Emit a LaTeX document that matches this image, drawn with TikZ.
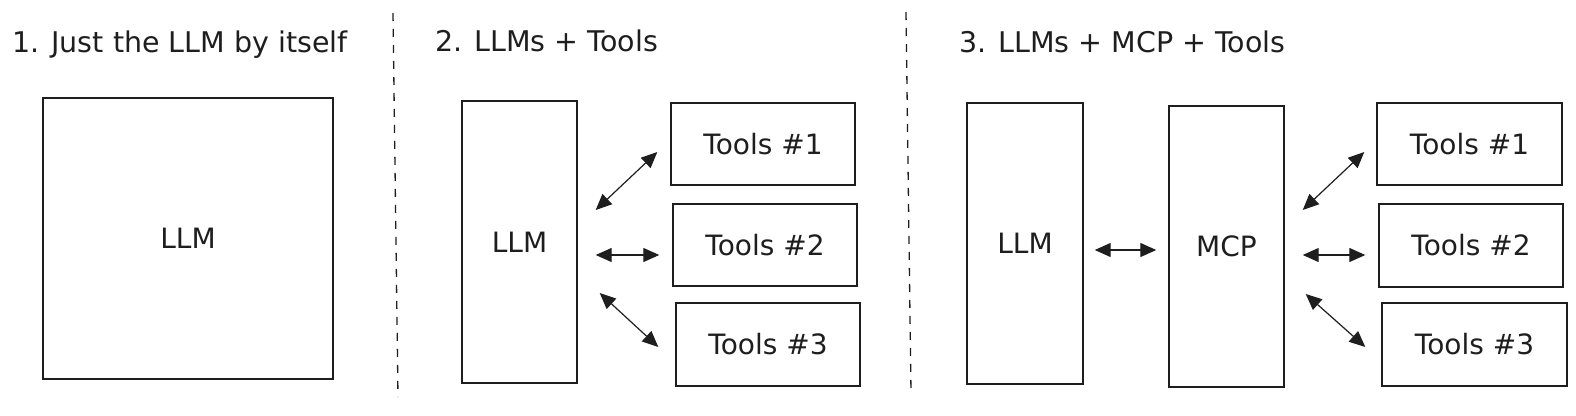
\documentclass[tikz,border=0pt]{standalone}
\usepackage{fontspec}
\setmainfont{DejaVu Sans}
\usepackage{tikz}
\usetikzlibrary{arrows.meta,calc}
\definecolor{ink}{HTML}{1E1E1E}
\tikzset{arr/.style={{Triangle[length=16pt,width=14pt]}-{Triangle[length=16pt,width=14pt]},line width=1.2pt,draw=ink},
  box/.style={draw=ink,line width=1.4pt,inner sep=0pt,font=\fontsize{28}{34}\selectfont,text=ink},
  toolbox/.style={box,minimum width=184pt,minimum height=82pt},
  tallbox/.style={box,minimum width=115pt,minimum height=281pt},
  title/.style={anchor=base west,inner sep=0pt,font=\fontsize{28.5}{34}\selectfont,text=ink},
  divider/.style={draw=ink,line width=1.3pt,dash pattern=on 8pt off 8pt}}

\begin{document}
\begin{tikzpicture}[x=1pt,y=-1pt]
\useasboundingbox (0,0) rectangle (1576,415);
% titles
\node[title] (titleA) at (12,52) {1. Just the LLM by itself};
\node[title] (titleB) at (435,51) {2. LLMs + Tools};
\node[title] (titleC) at (959,52) {3. LLMs + MCP + Tools};
% separators
\draw[divider] (393,13) -- (398,397);
\draw[divider] (906,12) -- (911,393);
% panel 1
\node[box,minimum width=290pt,minimum height=281pt] (llmA) at (188,238.5) {LLM};
% panel 2
\node[tallbox,minimum height=282pt] (llmB) at (519.5,242) {LLM};
\node[toolbox] (toolsB1) at (763,144) {Tools \#1};
\node[toolbox] (toolsB2) at (765,245) {Tools \#2};
\node[toolbox,minimum height=83pt] (toolsB3) at (768,344.5) {Tools \#3};
\draw[arr] ($(llmB.east)+(18,-32)$) -- ($(toolsB1.west)+(-13,8)$);
\draw[arr] ($(llmB.east)+(18,13)$) -- ($(toolsB2.west)+(-13,10)$);
\draw[arr] ($(llmB.east)+(22,51)$) -- ($(toolsB3.west)+(-17,2.5)$);
% panel 3
\node[tallbox,minimum width=116pt] (llmC) at (1025,243.5) {LLM};
\node[tallbox] (mcpC) at (1226.5,246.5) {MCP};
\node[toolbox,minimum width=185pt] (toolsC1) at (1469.5,144) {Tools \#1};
\node[toolbox,minimum height=83pt] (toolsC2) at (1471,245.5) {Tools \#2};
\node[toolbox,minimum width=185pt,minimum height=83pt] (toolsC3) at (1474.5,344.5) {Tools \#3};
\draw[arr] ($(llmC.east)+(11,6.5)$) -- ($(mcpC.west)+(-12,3.5)$);
\draw[arr] ($(mcpC.east)+(18,-36.5)$) -- ($(toolsC1.west)+(-12,8)$);
\draw[arr] ($(mcpC.east)+(18,8.5)$) -- ($(toolsC2.west)+(-13,9.5)$);
\draw[arr] ($(mcpC.east)+(21,47.5)$) -- ($(toolsC3.west)+(-16,2.5)$);
\end{tikzpicture}
\end{document}
